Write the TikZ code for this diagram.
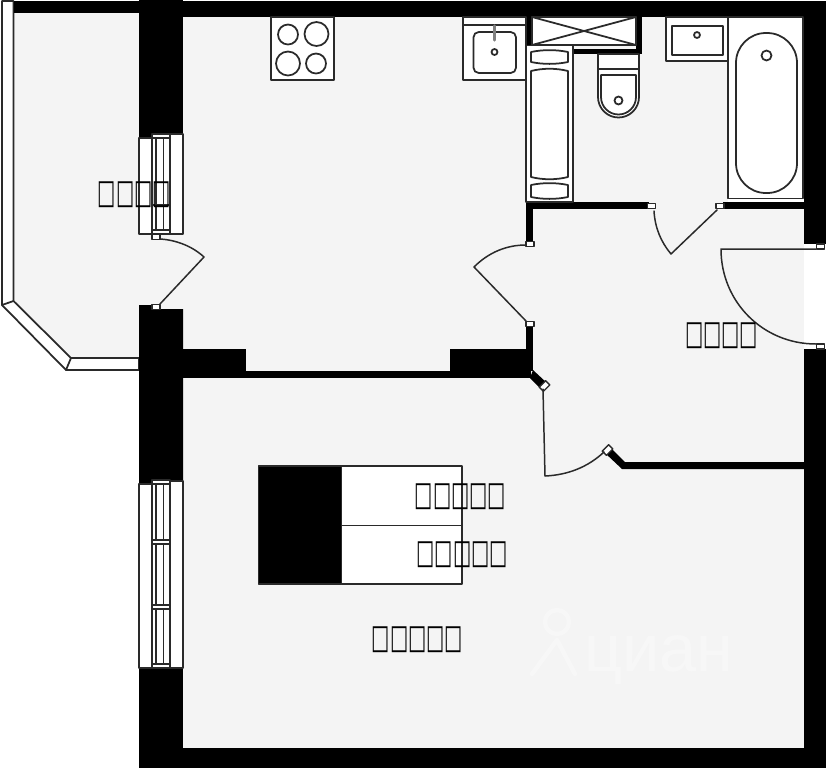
\documentclass[tikz,border=0pt]{standalone}
\usepackage{fontspec}
\newfontfamily\tofufont{DejaVu Sans}
\newfontfamily\brandfont{Liberation Sans}
\newcommand{\tofutext}[1]{\scalebox{1}[1.75]{#1}}
\definecolor{floorgrey}{HTML}{F4F4F4}
\definecolor{linegrey}{HTML}{2A2A2A}
\tikzset{
  wallfill/.style={fill=black,draw=none},
  floorfill/.style={fill=floorgrey,draw=none},
  fixture/.style={draw=linegrey,fill=white,line width=1pt},
  hingebox/.style={draw=linegrey,fill=white,line width=0.8pt},
  doorleaf/.style={draw=linegrey,line width=0.85pt},
  roomlabel/.style={inner sep=0pt,text=black,font=\tofufont\fontsize{11}{13}\selectfont},
  brandmark/.style={white,opacity=0.3,line width=2.5pt}
}
\begin{document}
\begin{tikzpicture}[x=0.02cm,y=-0.02cm,line join=round,line cap=round]
\useasboundingbox (0,0) rectangle (826,768);
\fill[floorfill] (183,17) rectangle (804,748);
\fill[floorfill] (13,13) -- (139,13) -- (139,358) -- (71,358) -- (13,301) -- cycle;
\fill[floorfill] (139,234) rectangle (183,310);
\draw[fixture] (2,1) -- (2,305) -- (66,370) -- (139,370) -- (139,358) -- (71,358) -- (13.5,301) -- (13.5,1) -- cycle;
\draw[fixture] (2,305) -- (13.5,301) (66,370) -- (71,358);
\fill[wallfill] (14,1) rectangle (139,13);
\fill[wallfill] (139,0) rectangle (183,138);
\fill[wallfill] (183,1) rectangle (826,17);
\fill[wallfill] (804,1) rectangle (826,244);
\fill[wallfill] (804,349) rectangle (826,768);
\fill[wallfill] (139,748) rectangle (826,768);
\fill[wallfill] (139,305) -- (152,305) -- (152,309) -- (183,309) -- (183,484) -- (139,484) -- cycle;
\fill[wallfill] (139,665) rectangle (183,768);
\fill[wallfill] (183,349) rectangle (246,371);
\fill[wallfill] (450,349) rectangle (533,371);
\fill[wallfill] (183,371) rectangle (531,378);
\fill[wallfill] (526,326) rectangle (533,349);
\fill[wallfill] (533,370) -- (547,383) -- (541,389) -- (530,378) -- cycle;
\fill[wallfill] (526,203) rectangle (533,242);
\fill[wallfill] (526,17) rectangle (532,45);
\fill[wallfill] (636,17) rectangle (642,54);
\fill[wallfill] (573,49) rectangle (642,54);
\fill[wallfill] (526,202) rectangle (649,209);
\fill[wallfill] (723,202) rectangle (804,209);
\fill[wallfill] (611,448) -- (625,462) -- (804,462) -- (804,469) -- (622,469) -- (605,453) -- cycle;
\foreach \ytop/\ybot/\yleft/\yright in {135/234/138/134,481/668/484/481}{
  \draw[fixture] (139,\yleft) rectangle (152,\ybot);
  \draw[fixture] (170,\yright) rectangle (183,\ybot);
  \draw[fixture] (152,\ytop) rectangle (170,\ybot);
  \draw[fixture] (156,\ytop) -- (156,\ybot) (163.5,\ytop) -- (163.5,\ybot);
}
\foreach \ybar in {136,232,482,542,607,666}
  \draw[hingebox] (152,\ybar-2) rectangle (170,\ybar+2);
\draw[doorleaf] (152,205) -- (170,205);
\foreach \hx/\hy in {156/237,156/307,530/244,530/324,651.5/206,720/206,820.5/246.5,820.5/346.5}
  \draw[hingebox] (\hx-4,\hy-2.5) rectangle (\hx+4,\hy+2.5);
\foreach \hx/\hy in {544.5/386,607.5/450}
  \draw[hingebox,shift={(\hx,\hy)},rotate=45] (-4.5,-3) rectangle (4.5,3);
\draw[doorleaf] (160,239) .. controls (176,240) and (192,246) .. (204,257) -- (160,304);
\draw[doorleaf] (526,245) .. controls (507,245) and (489,252) .. (474,267) -- (526,321);
\draw[doorleaf] (654,211) .. controls (655,228) and (661,242) .. (671,254) -- (717,210);
\draw[doorleaf] (543,389) -- (545,476) .. controls (568,475) and (588,467) .. (604,452);
\draw[doorleaf] (816,249) -- (721,249) .. controls (721,302) and (763,344) .. (816,344);
\draw[fixture] (271,17) rectangle (334,80);
\foreach \cx/\cy/\cr in {288/34.5/10,316.5/34/12,288/63.5/12,316/63.5/10}
  \draw[fixture] (\cx,\cy) circle (\cr);
\draw[fixture] (463,17) rectangle (526,80);
\draw[fixture] (463,25) -- (526,25);
\draw[fixture,rounded corners=3pt] (473.5,32) rectangle (516,73);
\draw[fixture] (494.5,52) circle (3);
\draw[draw=gray,line width=1.8pt] (494.5,26) -- (494.5,40);
\draw[fixture] (532,17) rectangle (636,45);
\draw[fixture] (532,17) -- (636,45) (532,45) -- (636,17);
\draw[fixture] (526,45.5) rectangle (573,202);
\draw[fixture] (531,52) .. controls (543,49.5) and (556,49.5) .. (568,52) -- (568,62) .. controls (556,64.5) and (543,64.5) .. (531,62) -- cycle;
\draw[fixture] (531,71) .. controls (543,68) and (556,68) .. (568,71) -- (568,177) .. controls (556,180) and (543,180) .. (531,177) -- cycle;
\draw[fixture] (531,185) .. controls (543,182.5) and (556,182.5) .. (568,185) -- (568,197) .. controls (556,199.5) and (543,199.5) .. (531,197) -- cycle;
\draw[fixture] (598,54) -- (639,54) -- (639,97) arc[start angle=0,end angle=180,radius=20.5] -- cycle;
\draw[fixture] (598,69) -- (639,69);
\draw[fixture] (601,75) -- (636,75) -- (636,97) arc[start angle=0,end angle=180,radius=17.5] -- cycle;
\draw[fixture] (618.5,100.5) circle (4);
\draw[fixture] (666,17) rectangle (728,61);
\draw[fixture] (672,26) rectangle (723,55);
\draw[fixture] (697,35) circle (3);
\fill[white] (728,198) rectangle (804,202);
\draw[fixture] (728,17) rectangle (803,198.5);
\draw[fixture,rounded corners=17pt] (736,33) rectangle (797,193);
\draw[fixture] (766.5,55.5) circle (5);
\draw[fixture] (341.5,466) rectangle (462,584);
\draw[fixture] (341.5,525.5) -- (462,525.5);
\draw[fixture,fill=black] (258.5,466) rectangle (341.5,584);
\draw[brandmark] (557,622) circle (12) (557,640) -- (532,674) (557,640) -- (575,674);
\node[text=white,opacity=0.3,inner sep=0pt,font=\brandfont\fontsize{38}{40}\selectfont] (brandname) at (659,660) {циан};
\node[roomlabel] (balconyname) at (134.5,194.5) {\tofutext{□□□□}};
\node[roomlabel] (hallname) at (721.7,335.5) {\tofutext{□□□□}};
\node[roomlabel] (bedname) at (460.5,496.7) {\tofutext{□□□□□}};
\node[roomlabel] (pillowname) at (462.3,555) {\tofutext{□□□□□}};
\node[roomlabel] (roomname) at (417.5,640) {\tofutext{□□□□□}};
\end{tikzpicture}
\end{document}
